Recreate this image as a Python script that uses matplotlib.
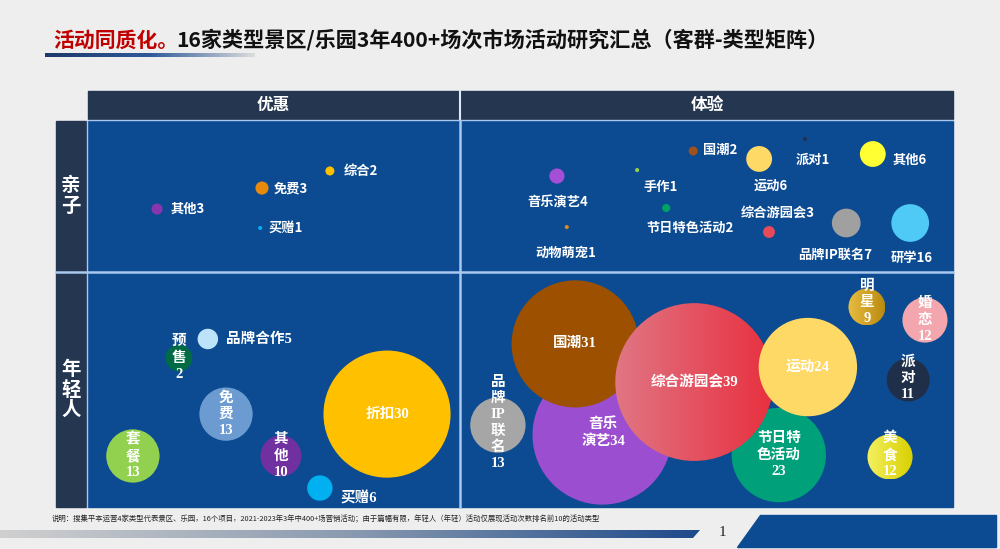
import numpy as np
import matplotlib
matplotlib.use('Agg')
import matplotlib.pyplot as plt
import matplotlib.patches as mpatches
from matplotlib.transforms import IdentityTransform

plt.rcParams['font.family'] = ['Noto Sans CJK SC', 'DejaVu Sans']

# ---- data (x / y are bubble coordinates on a 0-100 grid, size = bubble size) ----
# 亲子 x 优惠
kid_sale_names = ['其他', '免费', '综合', '买赠']
kid_sale_vals = [3, 3, 2, 1]
kid_sale_size = [2.7, 3.2, 2.2, 1]
kid_sale_x = [18.6, 46.9, 65.2, 46.4]
kid_sale_y = [41.3, 55.3, 66.7, 28.7]

# 亲子 x 体验
kid_exp_names = ['音乐演艺', '动物萌宠', '手作', '节日特色活动', '国潮', '运动',
                 '综合游园会', '派对', '品牌IP联名', '其他', '研学']
kid_exp_vals = [4, 1, 1, 2, 2, 6, 3, 1, 7, 6, 16]
kid_exp_size = [3.7, 1, 1, 2, 2.2, 6.3, 2.9, 1, 7, 6.3, 9.2]
kid_exp_x = [19.5, 21.5, 35.8, 41.7, 47.2, 60.6, 62.6, 69.9, 78.3, 83.7, 91.3]
kid_exp_y = [63.3, 29.3, 67.3, 42.0, 80.0, 74.7, 26.0, 88.0, 32.0, 78.0, 32.0]

# 年轻人 x 优惠
young_sale_names = ['预\n售\n', '品牌合作', '免\n费\n', '套\n餐\n', '其\n他\n', '折扣', '买赠']
young_sale_vals = [2, 5, 13, 13, 10, 30, 6]
young_sale_size = [6.5, 5, 13, 13, 10, 31, 6.2]
young_sale_x = [24.5, 32.3, 37.2, 12.1, 52.0, 80.6, 62.5]
young_sale_y = [63.7, 71.8, 39.7, 21.8, 21.8, 39.7, 8.1]

# 年轻人 x 体验
young_exp_names = ['音乐\n演艺', '国潮', '品\n牌\nIP\n联\n名\n', '节日特\n色活动\n', '综合游园会',
                   '运动', '明\n星\n', '婚\n恋\n', '派\n对\n', '美\n食\n']
young_exp_vals = [34, 31, 13, 23, 39, 24, 9, 12, 11, 12]
young_exp_size = [34, 31, 13.5, 23, 38.5, 24, 9, 11, 10.5, 11]
young_exp_x = [28.7, 23.2, 7.5, 64.6, 47.4, 70.5, 82.5, 94.3, 90.9, 87.2]
young_exp_y = [30.8, 69.7, 35.0, 22.2, 53.4, 59.8, 85.5, 79.9, 54.3, 21.4]

# ---- styles ----
kid_sale_colors = ['#8a35b0', '#e8890c', '#ffc000', '#00b0f0']
kid_sale_off = [(14, 0, 'left'), (12, 0, 'left'), (14, 0, 'left'), (8, 0, 'left')]

kid_exp_colors = ['#a54fd6', '#d98a1e', '#92d050', '#00a060', '#a0501a', '#ffd966',
                  '#e84a5a', '#203050', '#a0a0a0', '#ffff33', '#4fcaf7']
kid_exp_off = [(1, -26, 'center'), (-1, -26, 'center'), (24, -17, 'center'), (24, -20, 'center'),
               (10, 1, 'left'), (12, -27, 'center'), (9, 19, 'center'), (8, -21, 'center'),
               (-11, -32, 'center'), (20, -6, 'left'), (2, -35, 'center')]

young_sale_colors = ['#006b45', '#bde3fb', '#6b9bd1', '#92d050', '#7030a0', '#ffc000', '#00b0f0']
young_sale_off = [(0, 0, 'center'), (18, 0, 'left'), (0, 0, 'center'), (0, 0, 'center'),
                  (0, 0, 'center'), (0, 0, 'center'), (21, -10, 'left')]

# tuple = left->right gradient
young_exp_colors = ['#9b4fd0', '#9c5000', '#a6a6a6', '#00a07a', ('#e07684', '#e8303f'), '#ffd966',
                    ('#e8bd40', '#b98a10'), '#f4a6ae', '#1f2f4a', ('#f4f060', '#d8d000')]
young_exp_off = [(1, 2, 'center'), (0, 0, 'center'), (0, 2, 'center'), (0, 0, 'center'),
                 (0, 0, 'center'), (0, 0, 'center'), (0, 5, 'center'), (0, 0, 'center'),
                 (0, 2, 'center'), (0, 2, 'center')]

W, H = 1000, 549
BG = '#eeeeee'
NAVY = '#243650'
PANEL = '#0c4b91'
LINE = '#a9c8ee'
PX_PER_UNIT = 2.05  # bubble radius in pixels per size unit

fig = plt.figure(figsize=(10, 5.49), dpi=100, facecolor=BG)
bg = fig.add_axes([0, 0, 1, 1])
bg.set_xlim(0, W)
bg.set_ylim(H, 0)
bg.axis('off')

# title
bg.text(53, 40, '活动同质化。', color='#c00000', fontsize=15, fontweight='bold', va='center')
bg.text(176, 40, '16家类型景区/乐园3年400+场次市场活动研究汇总（客群-类型矩阵）',
        color='#111111', fontsize=15.2, fontweight='bold', va='center')
grad = np.linspace(0, 1, 256).reshape(1, -1)
cm_title = matplotlib.colors.LinearSegmentedColormap.from_list('t', ['#1d3a6b', '#2e5a9a', '#dcdcdc'])
bg.imshow(grad, extent=(45, 255, 57, 53), cmap=cm_title, aspect='auto', zorder=1)

# frame
bg.add_patch(mpatches.Rectangle((88, 91), 865, 28, color=NAVY))
bg.add_patch(mpatches.Rectangle((56, 121), 30, 386, color=NAVY))
bg.add_patch(mpatches.Rectangle((88, 121), 865, 386, color=PANEL))
bg.plot([460, 460], [91, 119], color='#dfe8f4', lw=1.5)
bg.plot([460, 460], [121, 507], color=LINE, lw=1.8)
bg.plot([56, 953], [272, 272], color=LINE, lw=1.8)
bg.plot([87, 87], [121, 507], color=LINE, lw=1.0)
bg.plot([88, 953], [120, 120], color=LINE, lw=1.0)
bg.text(273, 105, '优惠', color='white', fontsize=12, fontweight='bold', ha='center', va='center')
bg.text(707, 105, '体验', color='white', fontsize=12, fontweight='bold', ha='center', va='center')
bg.text(71, 196, '亲\n子', color='white', fontsize=14, fontweight='bold', ha='center', va='center',
        linespacing=1.1)
bg.text(71, 390, '年\n轻\n人', color='white', fontsize=14, fontweight='bold', ha='center', va='center',
        linespacing=1.1)

# footer
bg.text(52, 519, '说明：搜集平本运营4家类型代表景区、乐园，16个项目，2021-2023年3年中400+场营销活动；'
        '由于篇幅有限，年轻人（年轻）活动仅展现活动次数排名前10的活动类型',
        fontsize=5.3, color='#222222', va='center')
cm_foot = matplotlib.colors.LinearSegmentedColormap.from_list('f', ['#d0d0d0', '#8a9ab0', '#1e4a8a'])
foot = bg.imshow(grad, extent=(0, 700, 538, 530), cmap=cm_foot, aspect='auto', zorder=1)
foot.set_clip_path(mpatches.Polygon([(0, 530), (700, 530), (693, 538), (0, 538)],
                                    transform=bg.transData))
bg.text(722, 532, '1', fontsize=11, family='Liberation Serif', ha='center', va='center', color='#222222')
bg.add_patch(mpatches.Polygon([(760, 515), (996, 515), (996, 547), (737, 547)], color=PANEL))


def panel(x0, y0, x1, y1):
    ax = fig.add_axes([x0 / W, 1 - y1 / H, (x1 - x0) / W, (y1 - y0) / H])
    ax.set_xlim(0, 100)
    ax.set_ylim(0, 100)
    ax.patch.set_alpha(0)
    ax.axis('off')
    return ax


def bubbles(ax, names, vals, size, xs, ys, colors, offs, fs, family, order=None, ls=1.0):
    idx = order if order is not None else range(len(names))
    for z, i in enumerate(idx):
        r_px = PX_PER_UNIT * size[i]
        c = colors[i]
        if isinstance(c, tuple):
            # gradient bubble: image clipped to the circle
            cx, cy = ax.transData.transform((xs[i], ys[i]))
            inv = ax.transData.inverted()
            (xa, ya), (xb, yb) = inv.transform([(cx - r_px, cy - r_px), (cx + r_px, cy + r_px)])
            cmap = matplotlib.colors.LinearSegmentedColormap.from_list('g', list(c))
            im = ax.imshow(grad, extent=(xa, xb, ya, yb), cmap=cmap, aspect='auto', zorder=2 + z)
            im.set_clip_path(mpatches.Circle((cx, cy), r_px, transform=IdentityTransform()))
        else:
            d_pt = 2 * r_px * 0.72
            ax.scatter(xs[i], ys[i], s=d_pt ** 2, color=c, edgecolors='none',
                       zorder=2 + z, clip_on=True)
    ax.set_xlim(0, 100)
    ax.set_ylim(0, 100)
    for i in range(len(names)):
        dx, dy, ha = offs[i]
        ax.annotate(f'{names[i]}{vals[i]}', (xs[i], ys[i]), xytext=(dx, dy),
                    textcoords='offset pixels', ha=ha, va='center', color='white',
                    fontsize=fs, fontweight='bold', family=family, linespacing=ls,
                    zorder=50, annotation_clip=False)


sans = ['Noto Sans CJK SC', 'DejaVu Sans']
serif = ['Liberation Serif', 'Noto Sans CJK SC']

ax1 = panel(88, 121, 459, 271)
bubbles(ax1, kid_sale_names, kid_sale_vals, kid_sale_size, kid_sale_x, kid_sale_y,
        kid_sale_colors, kid_sale_off, 9.5, sans)

ax2 = panel(461, 121, 953, 271)
bubbles(ax2, kid_exp_names, kid_exp_vals, kid_exp_size, kid_exp_x, kid_exp_y,
        kid_exp_colors, kid_exp_off, 9.5, sans)

ax3 = panel(88, 273, 459, 507)
bubbles(ax3, young_sale_names, young_sale_vals, young_sale_size, young_sale_x, young_sale_y,
        young_sale_colors, young_sale_off, 10.5, serif, ls=1.3)

ax4 = panel(461, 273, 953, 507)
bubbles(ax4, young_exp_names, young_exp_vals, young_exp_size, young_exp_x, young_exp_y,
        young_exp_colors, young_exp_off, 10.5, serif, order=[2, 0, 1, 3, 4, 5, 6, 7, 8, 9], ls=1.3)

fig.savefig('out.png', dpi=100, facecolor=BG)
